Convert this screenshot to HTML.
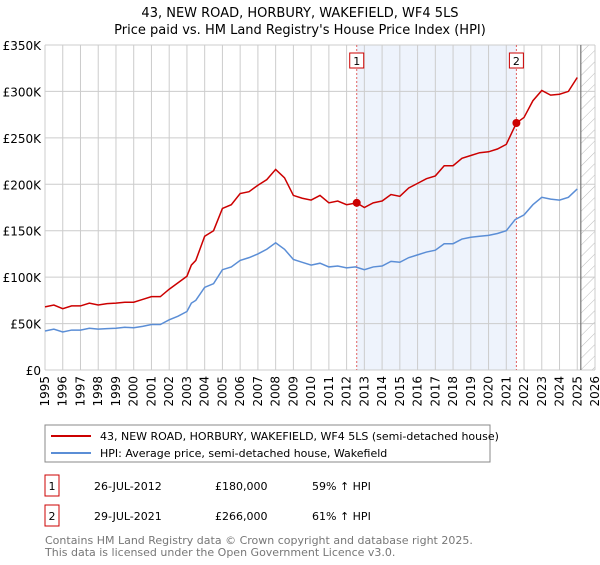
<!DOCTYPE html>
<html><head><meta charset="utf-8"><style>
body{margin:0;background:#fff;font-family:"Liberation Sans","DejaVu Sans",sans-serif;}
svg text{font-family:"DejaVu Sans","Liberation Sans",sans-serif;}
</style></head><body>
<svg width="600" height="560" viewBox="0 0 600 560">
<defs><pattern id="hatch" width="8" height="8" patternUnits="userSpaceOnUse" patternTransform="rotate(45)"><line x1="0" y1="0" x2="0" y2="8" stroke="#bbb" stroke-width="1"/></pattern></defs>
<text x="300" y="17" text-anchor="middle" font-size="13" fill="#000">43, NEW ROAD, HORBURY, WAKEFIELD, WF4 5LS</text>
<text x="300" y="34" text-anchor="middle" font-size="13" fill="#000">Price paid vs. HM Land Registry's House Price Index (HPI)</text>
<g id="plot"></g>
<rect x="45" y="425" width="445" height="37" fill="#fff" stroke="#888"/>
<line x1="51" y1="436" x2="91" y2="436" stroke="#cc0000" stroke-width="2"/>
<text x="100" y="440" font-size="11">43, NEW ROAD, HORBURY, WAKEFIELD, WF4 5LS (semi-detached house)</text>
<line x1="51" y1="453" x2="91" y2="453" stroke="#5b8ed6" stroke-width="2"/>
<text x="100" y="457" font-size="11">HPI: Average price, semi-detached house, Wakefield</text>
<rect x="45" y="475" width="14" height="21" fill="#fff" stroke="#cc0000"/>
<text x="52" y="490" font-size="11" text-anchor="middle">1</text>
<text x="94" y="490" font-size="11">26-JUL-2012</text>
<text x="215" y="490" font-size="11">£180,000</text>
<text x="312" y="490" font-size="11">59% ↑ HPI</text>
<rect x="45" y="505" width="14" height="21" fill="#fff" stroke="#cc0000"/>
<text x="52" y="520" font-size="11" text-anchor="middle">2</text>
<text x="94" y="520" font-size="11">29-JUL-2021</text>
<text x="215" y="520" font-size="11">£266,000</text>
<text x="312" y="520" font-size="11">61% ↑ HPI</text>
<text x="45" y="544" font-size="11" fill="#777">Contains HM Land Registry data © Crown copyright and database right 2025.</text>
<text x="45" y="556" font-size="11" fill="#777">This data is licensed under the Open Government Licence v3.0.</text>
</svg>
<script>
const yTicks=[0,50,100,150,200,250,300,350];
const yTickLabels=["£0","£50K","£100K","£150K","£200K","£250K","£300K","£350K"];
const xYears=[1995,1996,1997,1998,1999,2000,2001,2002,2003,2004,2005,2006,2007,2008,2009,2010,2011,2012,2013,2014,2015,2016,2017,2018,2019,2020,2021,2022,2023,2024,2025,2026];
const hpiT=[1995,1995.5,1996,1996.5,1997,1997.5,1998,1998.5,1999,1999.5,2000,2000.5,2001,2001.5,2002,2002.5,2003,2003.25,2003.5,2004,2004.5,2005,2005.5,2006,2006.5,2007,2007.5,2008,2008.5,2009,2009.5,2010,2010.5,2011,2011.5,2012,2012.5,2013,2013.5,2014,2014.5,2015,2015.5,2016,2016.5,2017,2017.5,2018,2018.5,2019,2019.5,2020,2020.5,2021,2021.5,2022,2022.5,2023,2023.5,2024,2024.5,2025];
const hpiV=[42,44,41,43,43,45,44,44.5,45,46,45.5,47,49,49,54,58,63,72,75,89,93,108,111,118,121,125,130,137,130,119,116,113,115,111,112,110,111,108,111,112,117,116,121,124,127,129,136,136,141,143,144,145,147,150,162,167,178,186,184,183,186,195];
const propT=[1995,1995.5,1996,1996.5,1997,1997.5,1998,1998.5,1999,1999.5,2000,2000.5,2001,2001.5,2002,2002.5,2003,2003.25,2003.5,2004,2004.5,2005,2005.5,2006,2006.5,2007,2007.5,2008,2008.5,2009,2009.5,2010,2010.5,2011,2011.5,2012,2012.57,2013,2013.5,2014,2014.5,2015,2015.5,2016,2016.5,2017,2017.5,2018,2018.5,2019,2019.5,2020,2020.5,2021,2021.57,2022,2022.5,2023,2023.5,2024,2024.5,2025];
const propV=[68,70,66,69,69,72,70,71.5,72,73,73,76,79,79,87,94,101,113,118,144,150,174,178,190,192,199,205,216,207,188,185,183,188,180,182,178,180,175,180,182,189,187,196,201,206,209,220,220,228,231,234,235,238,243,266,272,290,301,296,297,300,315];
const saleT=[2012.57,2021.57];
const saleV=[180,266];
const saleLabels=["1","2"];
const X0=45,X1=595,Y0=370,Y1=45;
const xs=t=>X0+(t-1995)/(2026-1995)*(X1-X0);
const ys=v=>Y0-v/350*(Y0-Y1);
const NS="http://www.w3.org/2000/svg";
const g=document.getElementById('plot');
function mk(tag,attrs){const e=document.createElementNS(NS,tag);for(const k in attrs)e.setAttribute(k,attrs[k]);g.appendChild(e);return e;}
let e;
e=mk('rect',{x:xs(saleT[0]),y:Y1,width:xs(saleT[1])-xs(saleT[0]),height:Y0-Y1,fill:'#eef3fc'});


e=mk('rect',{x:xs(2025.2),y:Y1,width:X1-xs(2025.2),height:Y0-Y1,fill:'url(#hatch)'});


xYears.forEach(yr=>{
 e=mk('line',{x1:xs(yr),x2:xs(yr),y1:Y1,y2:Y0,stroke:'#ccc','stroke-width':1});
 
 
 e=mk('text',{x:0,y:0,'font-size':12,'text-anchor':'end',transform:`translate(${xs(yr)+4},${Y0+6}) rotate(-90)`});
 e.textContent=yr;
 
 
});
yTicks.forEach((v,i)=>{
 e=mk('line',{x1:X0,x2:X1,y1:ys(v),y2:ys(v),stroke:'#ccc','stroke-width':1});
 
 
 e=mk('text',{x:X0-4,y:ys(v)+5,'font-size':12,'text-anchor':'end'});
 e.textContent=yTickLabels[i];
 
 
});
e=mk('line',{x1:xs(2025.2),x2:xs(2025.2),y1:Y1,y2:Y0,stroke:'#777','stroke-width':1.2});


saleT.forEach((t,i)=>{
 e=mk('line',{x1:xs(t),x2:xs(t),y1:Y1,y2:Y0,stroke:'#e06060','stroke-width':1,'stroke-dasharray':'2,2'});
 
 
 e=mk('rect',{x:xs(t)-7,y:53,width:14,height:15,fill:'#fff',stroke:'#cc0000'});
 
 
 e=mk('text',{x:xs(t),y:65,'font-size':11,'text-anchor':'middle'});
 e.textContent=saleLabels[i];
 
 
});
e=mk('polyline',{points:hpiT.map((t,i)=>xs(t)+','+ys(hpiV[i])).join(' '),fill:'none',stroke:'#5b8ed6','stroke-width':1.5});


e=mk('polyline',{points:propT.map((t,i)=>xs(t)+','+ys(propV[i])).join(' '),fill:'none',stroke:'#cc0000','stroke-width':1.5});


saleT.forEach((t,i)=>{
 e=mk('circle',{cx:xs(t),cy:ys(saleV[i]),r:4,fill:'#cc0000'});
 
 
});
</script>
</body></html>
